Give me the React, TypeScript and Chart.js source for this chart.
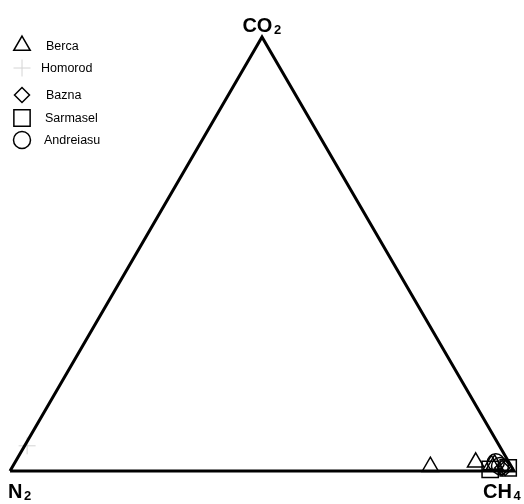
import React, { useEffect, useRef } from "react";
import { Chart, registerables } from "chart.js";
import { drawPoint } from "chart.js/helpers";

Chart.register(...registerables);

// Ternary compositions in percent: CH4, CO2, N2
const seriesNames = ["Berca", "Homorod", "Bazna", "Sarmasel", "Andreiasu"];
const seriesStyles = ["triangle", "cross", "rectRot", "rect", "circle"];

const bercaCH4 = [82.9, 91.4, 94.8, 95.4];
const bercaCO2 = [1.0, 2.0, 1.4, 1.5];
const bercaN2 = [16.1, 6.6, 3.8, 3.1];

const homorodCH4 = [0.5];
const homorodCO2 = [5.8];
const homorodN2 = [93.7];

const baznaCH4 = [97.3, 97.9];
const baznaCO2 = [0.7, 0.7];
const baznaN2 = [2.0, 1.4];

const sarmaselCH4 = [95.1, 98.5];
const sarmaselCO2 = [0.35, 0.7];
const sarmaselN2 = [4.55, 0.8];

const andreiasuCH4 = [95.4, 96.6];
const andreiasuCO2 = [2.0, 1.15];
const andreiasuN2 = [2.6, 2.2];

const vertexLabels = [
  { main: "N", sub: "2" },
  { main: "CO", sub: "2" },
  { main: "CH", sub: "4" },
];

const H = Math.sqrt(3) / 2;

function toXY(ch4: number[], co2: number[], n2: number[]) {
  return ch4.map((c, i) => {
    const total = c + co2[i] + n2[i];
    const a = c / total;
    const b = co2[i] / total;
    return { x: a + b / 2, y: b * H };
  });
}

const W = 524;
const HT = 504;
// pixel layout of the triangle
const leftPx = 10;
const rightPx = 514;
const basePx = 471;
const apexPx = 37;

export default function App() {
  const ref = useRef<HTMLCanvasElement | null>(null);

  useEffect(() => {
    document.body.style.margin = "0";
    const canvas = ref.current;
    if (!canvas) return;

    const pxPerX = (rightPx - leftPx);
    const pxPerY = (basePx - apexPx) / H;
    const xMin = -leftPx / pxPerX;
    const xMax = 1 + (W - rightPx) / pxPerX;
    const yMax = H + apexPx / pxPerY;
    const yMin = -(HT - basePx) / pxPerY;

    const seriesData = [
      toXY(bercaCH4, bercaCO2, bercaN2),
      toXY(homorodCH4, homorodCO2, homorodN2),
      toXY(baznaCH4, baznaCO2, baznaN2),
      toXY(sarmaselCH4, sarmaselCO2, sarmaselN2),
      toXY(andreiasuCH4, andreiasuCO2, andreiasuN2),
    ];
    const radii = [9.5, 8.5, 7.5, 11.5, 8.5];
    const markerWidth = 1.5;

    const outline = [
      { x: 0, y: 0 },
      { x: 1, y: 0 },
      { x: 0.5, y: H },
      { x: 0, y: 0 },
    ];

    const overlay = {
      id: "ternaryOverlay",
      afterDraw(chart: any) {
        const ctx = chart.ctx;
        ctx.save();
        // legend
        const legendX = 22;
        const legendY = [45.5, 68, 95, 118, 140];
        const textX = [46, 41, 46, 45, 44];
        ctx.font = "12.5px 'Liberation Sans', Arial, sans-serif";
        ctx.textBaseline = "middle";
        ctx.textAlign = "left";
        seriesNames.forEach((name, i) => {
          ctx.strokeStyle = i === 1 ? "#d4d4d4" : "#000";
          ctx.fillStyle = "rgba(0,0,0,0)";
          ctx.lineWidth = i === 1 ? 1 : markerWidth;
          drawPoint(
            ctx,
            { pointStyle: seriesStyles[i], radius: radii[i], rotation: 0, borderWidth: ctx.lineWidth } as any,
            legendX,
            legendY[i]
          );
          ctx.fillStyle = "#000";
          ctx.fillText(name, textX[i], legendY[i] + 1);
        });

        // vertex labels
        const xs = chart.scales.x;
        const ys = chart.scales.y;
        const pos = [
          { x: xs.getPixelForValue(0), y: ys.getPixelForValue(0), dx: -2, dy: 27, align: "left" },
          { x: xs.getPixelForValue(0.5), y: ys.getPixelForValue(H), dx: -4, dy: -5, align: "center" },
          { x: xs.getPixelForValue(1), y: ys.getPixelForValue(0), dx: -31, dy: 27, align: "left" },
        ];
        ctx.fillStyle = "#000";
        ctx.textBaseline = "alphabetic";
        vertexLabels.forEach((lab, i) => {
          const p = pos[i];
          ctx.font = "bold 20px 'Liberation Sans', Arial, sans-serif";
          const mw = ctx.measureText(lab.main).width;
          ctx.font = "bold 13px 'Liberation Sans', Arial, sans-serif";
          const sw = ctx.measureText(lab.sub).width;
          let start = p.x + p.dx;
          if (p.align === "center") start = p.x + p.dx - (mw + sw + 2) / 2 + 4;
          ctx.font = "bold 20px 'Liberation Sans', Arial, sans-serif";
          ctx.fillText(lab.main, start, p.y + p.dy);
          ctx.font = "bold 13px 'Liberation Sans', Arial, sans-serif";
          ctx.fillText(lab.sub, start + mw + 1.5, p.y + p.dy + 2);
        });
        ctx.restore();
      },
    };

    const datasets: any[] = [
      {
        type: "line",
        label: "outline",
        data: outline,
        borderColor: "#000",
        borderWidth: 3,
        borderJoinStyle: "miter",
        pointRadius: 0,
        fill: false,
        order: 0,
      },
      ...seriesNames.map((name, i) => ({
        type: "scatter",
        label: name,
        data: seriesData[i],
        pointStyle: seriesStyles[i],
        pointRadius: radii[i],
        pointBorderColor: i === 1 ? "#d4d4d4" : "#000",
        pointBackgroundColor: "rgba(0,0,0,0)",
        pointBorderWidth: i === 1 ? 1 : markerWidth,
        clip: false,
        order: 1,
      })),
    ];

    const chart = new Chart(canvas, {
      type: "scatter",
      data: { datasets },
      options: {
        animation: false,
        responsive: false,
        maintainAspectRatio: false,
        layout: { padding: 0, autoPadding: false },
        plugins: {
          legend: { display: false },
          tooltip: { enabled: false },
        },
        scales: {
          x: { type: "linear", min: xMin, max: xMax, display: false },
          y: { type: "linear", min: yMin, max: yMax, display: false },
        },
      },
      plugins: [overlay],
    });

    return () => chart.destroy();
  }, []);

  return (
    <div style={{ width: W, height: HT, background: "#fff" }}>
      <canvas ref={ref} width={W} height={HT} style={{ display: "block" }} />
    </div>
  );
}
